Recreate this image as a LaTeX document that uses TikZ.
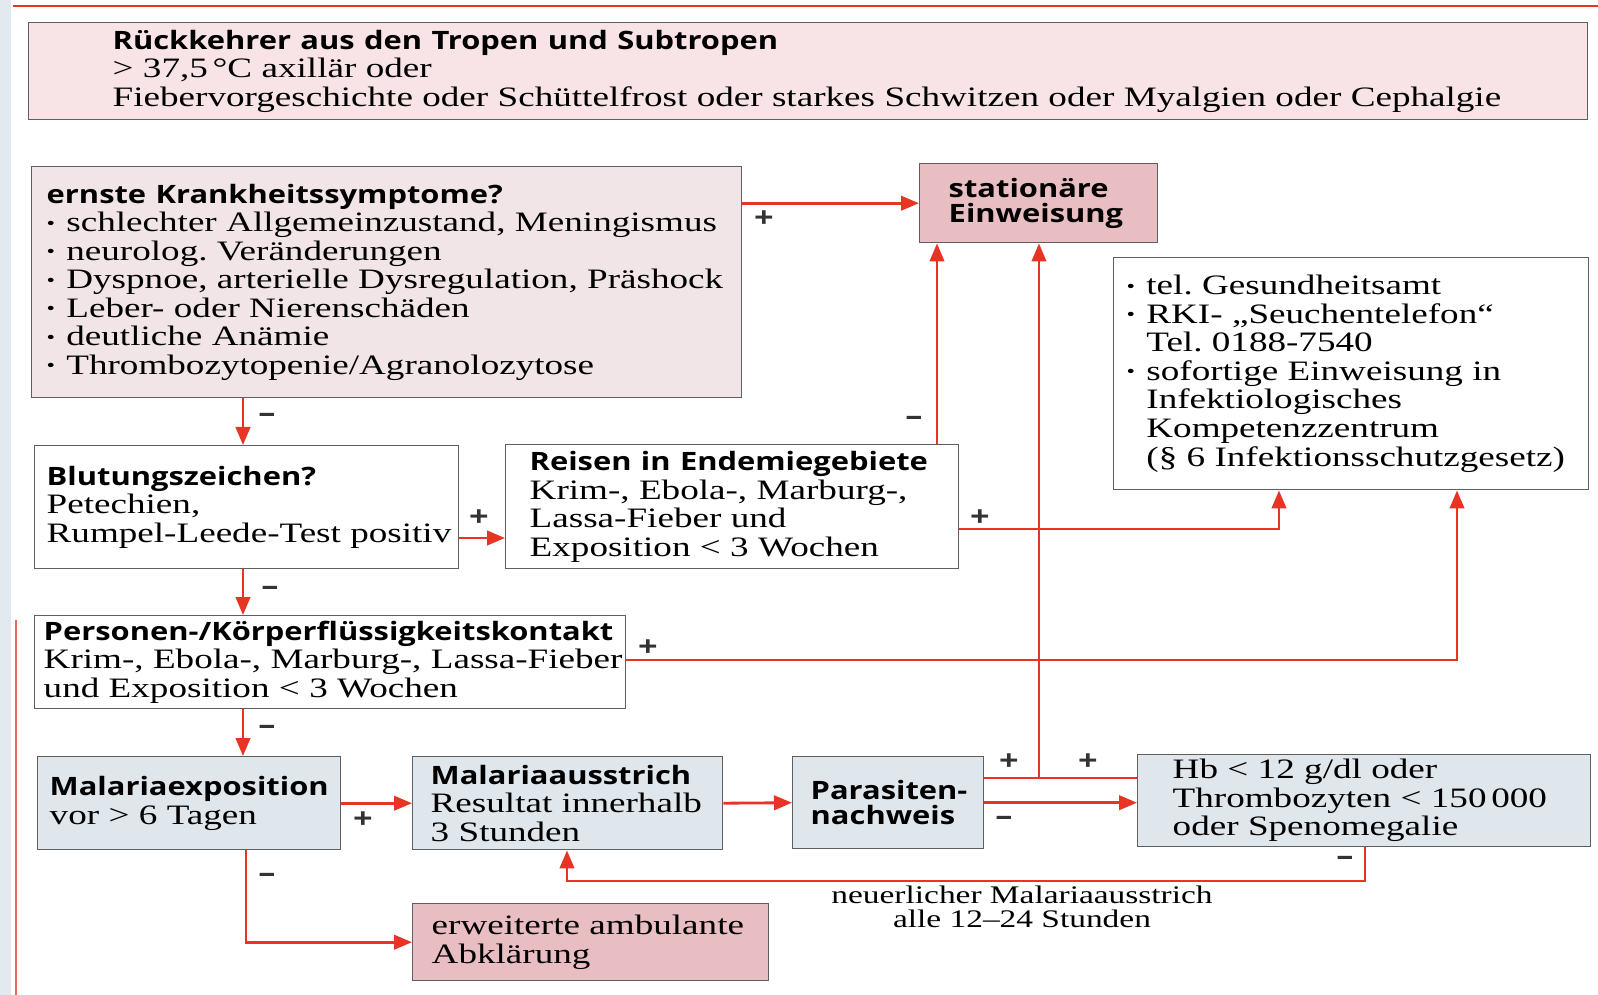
\documentclass[tikz,border=0pt]{standalone}
\usepackage{fontspec}
\setmainfont[FakeStretch=1.32]{Liberation Serif}
\setsansfont[FakeStretch=1.22]{Open Sans}
\usetikzlibrary{arrows.meta}

\definecolor{arrowred}{RGB}{232,52,36}
\definecolor{frame}{RGB}{95,95,95}
\definecolor{headpink}{RGB}{248,228,231}
\definecolor{greypink}{RGB}{241,229,231}
\definecolor{rosefill}{RGB}{233,190,195}
\definecolor{bluegrey}{RGB}{223,230,236}
\definecolor{pageedge}{RGB}{226,234,240}

\newcommand{\hd}[1]{{\sffamily\bfseries\fontsize{18}{20.3}\selectfont #1}}
\newcommand{\bul}{\makebox[0.7em][l]{\raisebox{0.2ex}{\scalebox{0.65}{•}}}}
\newcommand{\ind}{\hspace*{0.7em}}

\tikzset{
  flow/.style={draw=frame, line width=1pt, anchor=north west, align=left,
    inner ysep=0pt, font=\fontsize{20}{20.3}\selectfont},
  headonly/.style={font=\sffamily\bfseries\fontsize{18}{18}\selectfont},
  dims/.style n args={4}{minimum width=#1, minimum height=#2, inner xsep=#3, text width=#4},
  arr/.style={draw=arrowred, line width=2pt, -{Triangle[length=4.5mm,width=3.6mm]}},
  link/.style={draw=arrowred, line width=2pt},
  pm/.style={font=\sffamily\bfseries\fontsize{20}{20}\selectfont, text=black!80, inner sep=0pt},
  note/.style={font=\fontsize{18}{17}\selectfont, align=center, inner sep=0pt}
}

\begin{document}
\frenchspacing
\begin{tikzpicture}[x=0.25mm, y=-0.25mm]
  \useasboundingbox (0,0) rectangle (1598,995);
  % page edge
  \fill[pageedge] (0,0) rectangle (11,995);
  \draw[arrowred, line width=1.5pt] (13,6) -- (1598,6);
  \draw[arrowred!75, line width=1.8pt] (16,620) -- (16,995);

  % boxes
  \node[flow, fill=headpink, dims={389.75mm}{24.25mm}{21mm}{347.75mm}] (rueck) at (28,22)
    {\hd{Rückkehrer aus den Tropen und Subtropen}\\
     > 37,5\,°C axillär oder\\
     \mbox{Fiebervorgeschichte oder Schüttelfrost oder starkes Schwitzen oder Myalgien oder Cephalgie}};
  \node[flow, fill=greypink, dims={177.5mm}{57.75mm}{3.75mm}{170mm}] (ernste) at (31,166)
    {\hd{ernste Krankheitssymptome?}\\
     \bul schlechter Allgemeinzustand, Meningismus\\
     \bul neurolog. Veränderungen\\
     \bul \mbox{Dyspnoe, arterielle Dysregulation, Präshock}\\
     \bul Leber- oder Nierenschäden\\
     \bul deutliche Anämie\\
     \bul Thrombozytopenie/Agranolozytose};
  \node[flow, headonly, fill=rosefill, dims={59.5mm}{19.75mm}{7.25mm}{45mm}] (stat) at (919,163)
    {stationäre\\ Einweisung};
  \node[flow, fill=white, dims={118.75mm}{58mm}{3.25mm}{112.25mm}] (rki) at (1113,257)
    {\bul tel. Gesundheitsamt\\
     \bul RKI- „Seuchentelefon“\\
     \ind Tel. 0188-7540\\
     \bul sofortige Einweisung in\\
     \ind Infektiologisches\\
     \ind Kompetenzzentrum\\
     \ind \mbox{(§ 6 Infektionsschutzgesetz)}};
  \node[flow, fill=white, dims={106mm}{30.75mm}{3mm}{100mm}] (blut) at (34,445)
    {\hd{Blutungszeichen?}\\ Petechien,\\ \mbox{Rumpel-Leede-Test positiv}};
  \node[flow, fill=white, dims={113.25mm}{31mm}{6mm}{101.25mm}] (reisen) at (505,444)
    {\hd{Reisen in Endemiegebiete}\\ Krim-, Ebola-, Marburg-,\\ Lassa-Fieber und\\ Exposition < 3 Wochen};
  \node[flow, fill=white, dims={147.75mm}{23.25mm}{2.25mm}{143.25mm}] (pers) at (34,615)
    {\hd{\mbox{Personen-/Körperflüssigkeitskontakt}}\\ \mbox{Krim-, Ebola-, Marburg-, Lassa-Fieber}\\ und Exposition < 3 Wochen};
  \node[flow, fill=bluegrey, dims={75.75mm}{23.25mm}{3mm}{69.75mm}] (malexp) at (37,756)
    {\hd{\mbox{Malariaexposition}}\\ vor > 6 Tagen};
  \node[flow, fill=bluegrey, dims={77.5mm}{23.25mm}{4.5mm}{68.5mm}] (ausstr) at (412,756)
    {\hd{\mbox{Malariaausstrich}}\\ \mbox{Resultat innerhalb}\\ 3 Stunden};
  \node[flow, headonly, fill=bluegrey, dims={47.75mm}{23mm}{4.5mm}{38.75mm}] (paras) at (792,756)
    {\mbox{Parasiten-}\\ nachweis};
  \node[flow, fill=bluegrey, dims={113.25mm}{23mm}{8.75mm}{95.75mm}] (hb) at (1137,754)
    {Hb < 12 g/dl oder\\ \mbox{Thrombozyten < 150\,000}\\ oder Spenomegalie};
  \node[flow, fill=rosefill, dims={89mm}{19.25mm}{4.75mm}{79.5mm}] (erw) at (412,903)
    {\mbox{erweiterte ambulante}\\ Abklärung};
  \node[note] (neu) at (1022,907) {neuerlicher Malariaausstrich\\ alle 12–24 Stunden};

  % helper coordinates
  \coordinate (spine) at (243,0);
  \coordinate (yB) at (0,538);
  \coordinate (xR) at (937,0);
  \coordinate (yR) at (0,529);
  \coordinate (xK1) at (1279,0);
  \coordinate (yP) at (0,660);
  \coordinate (xK2) at (1457,0);
  \coordinate (xT) at (1039,0);
  \coordinate (yT) at (0,778);
  \coordinate (xH) at (1365,0);
  \coordinate (yL) at (0,881);
  \coordinate (xA) at (567,0);
  \coordinate (xE) at (246,0);

  % connectors
  \draw[arr] (ernste.east |- stat.west) -- (stat.west);
  \draw[arr] (ernste.south -| spine) -- (blut.north -| spine);
  \draw[arr] (blut.east |- yB) -- (reisen.west |- yB);
  \draw[arr] (reisen.north -| xR) -- (stat.south -| xR);
  \draw[arr] (reisen.east |- yR) -- (xK1 |- yR) -- (rki.south -| xK1);
  \draw[arr] (blut.south -| spine) -- (pers.north -| spine);
  \draw[arr] (pers.east |- yP) -- (xK2 |- yP) -- (rki.south -| xK2);
  \draw[arr] (pers.south -| spine) -- (malexp.north -| spine);
  \draw[arr] (malexp.east) -- (ausstr.west);
  \draw[arr] (ausstr.east) -- (paras.west);
  \draw[link] (paras.east |- yT) -- (hb.west |- yT);
  \draw[arr] (xT |- yT) -- (stat.south -| xT);
  \draw[arr] (paras.east) -- (paras.east -| hb.west);
  \draw[arr] (hb.south -| xH) -- (xH |- yL) -- (xA |- yL) -- (ausstr.south -| xA);
  \draw[arr] (malexp.south -| xE) |- (erw.west);

  % plus / minus
  \node[pm] (plusA) at (764,219) {+};
  \node[pm] (minusA) at (267,418) {–};
  \node[pm] (plusB) at (479,518) {+};
  \node[pm] (minusB) at (914,421) {–};
  \node[pm] (plusC) at (980,518) {+};
  \node[pm] (minusC) at (270,591) {–};
  \node[pm] (plusD) at (648,648) {+};
  \node[pm] (minusD) at (267,730) {–};
  \node[pm] (plusE) at (363,820) {+};
  \node[pm] (plusF) at (1009,762) {+};
  \node[pm] (plusG) at (1088,762) {+};
  \node[pm] (minusE) at (1004,821) {–};
  \node[pm] (minusF) at (1345,861) {–};
  \node[pm] (minusG) at (267,878) {–};
\end{tikzpicture}
\end{document}
